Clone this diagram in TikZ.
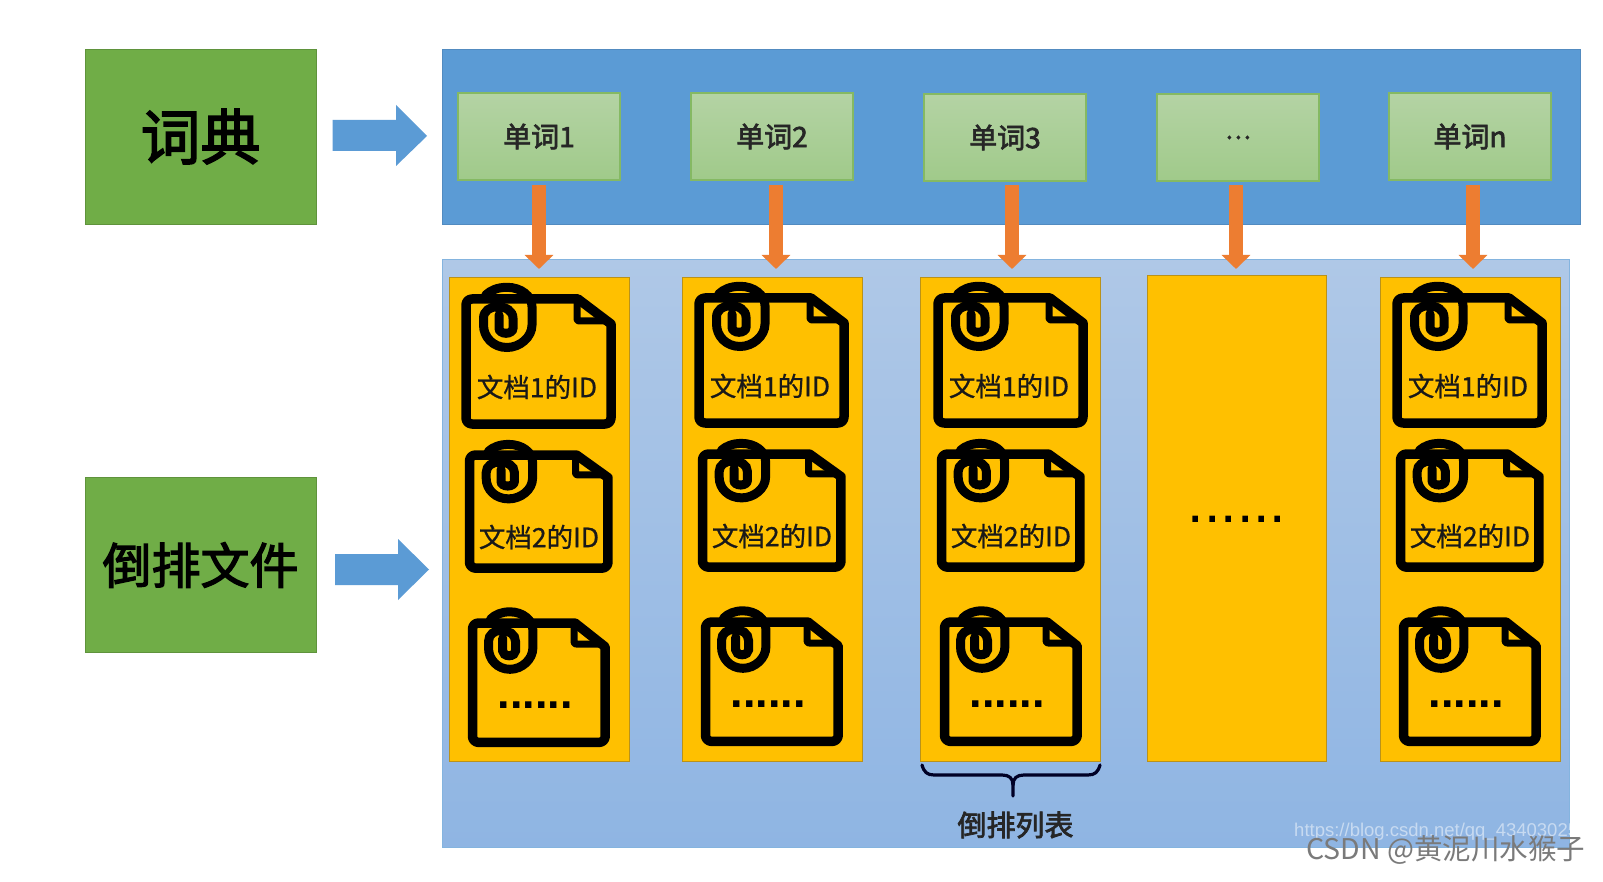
\documentclass[tikz,border=0pt]{standalone}
\usepackage{fontspec}
\setmainfont{Noto Sans CJK SC}
\newfontfamily\medfont[FakeBold=2.5]{Noto Sans CJK SC}
\newfontfamily\lightfake[FakeBold=.8]{Noto Sans CJK SC}
\newfontfamily\dotfont{Liberation Sans}
\usetikzlibrary{arrows.meta}
\definecolor{titlegreen}{HTML}{70AD47}
\definecolor{blockblue}{HTML}{5B9BD5}
\definecolor{listyellow}{HTML}{FFC000}
\definecolor{arroworange}{HTML}{ED7D31}
\definecolor{HTMLwordtop}{HTML}{B4D3A4}
\definecolor{HTMLwordbot}{HTML}{A0CA8A}
\definecolor{lowertop}{HTML}{AFC8E7}
\definecolor{lowerbot}{HTML}{8FB5E3}
\tikzset{
  cellbox/.style={anchor=north west,inner sep=0pt,outer sep=0pt},
  titlebox/.style={cellbox,fill=titlegreen,draw=titlegreen!85!black,line width=.8pt,minimum width=231pt,minimum height=175pt},
  wordbox/.style={cellbox,top color=HTMLwordtop,bottom color=HTMLwordbot,draw=titlegreen!85!white,line width=1.4pt,minimum width=162pt,minimum height=87pt,font=\medfont\fontsize{28}{32}\selectfont,text=black!85},
  listbox/.style={cellbox,fill=listyellow,draw=listyellow!70!black!90,line width=.9pt,minimum width=180pt},
  doclabel/.style={inner sep=0pt,font=\lightfake\fontsize{26.5}{30}\selectfont,text=black!90},
  downarrow/.style={line width=14pt,arroworange,-{Triangle[length=14pt,width=28pt]}},
  docicon/.pic={
    \draw[line width=9.5pt,line join=round,rounded corners=6pt]
      (60,0) [sharp corners] -- (112,0) -- (145,25) [rounded corners=6pt] -- (145,125) -- (0,125) -- (0,0) -- cycle;
    \draw[line width=7pt,line join=round,rounded corners=2pt] (111,1) -- (111,22) -- (144,22);
    \draw[line width=9pt,line cap=round]
      (19.7,-4) .. controls (25,-9) and (32,-11.7) .. (41,-11.7)
      .. controls (55,-11.7) and (66,-3) .. (66,7.7)
      -- (66,26) .. controls (66,38) and (54,48.5) .. (41,48.5)
      .. controls (27,48.5) and (17.5,38) .. (17.5,26)
      -- (17.5,19.3) .. controls (17.5,12) and (24,7.7) .. (31.3,7.7)
      .. controls (40,7.7) and (47,12) .. (47,19.3)
      -- (47,29.3) .. controls (47,32) and (44,34.3) .. (40,34.3)
      .. controls (36,34.3) and (33,32) .. (33,29.3)
      -- (33,16);
  }
}
\begin{document}
\begin{tikzpicture}[x=1pt,y=-1pt]
\useasboundingbox (0,0) rectangle (1603,882);
\fill[white] (0,0) rectangle (1603,882);

% title boxes
\node[titlebox,font=\medfont\fontsize{60}{66}\selectfont] (dict) at (85,49) {词典};
\node[titlebox,font=\medfont\fontsize{49}{56}\selectfont] (inv) at (85,477.5) {倒排文件};

% panels
\node[cellbox,fill=blockblue,draw=blockblue!90!black,line width=.8pt,minimum width=1138pt,minimum height=175pt] (upper) at (442,49) {};
\node[cellbox,top color=lowertop,bottom color=lowerbot,draw=blockblue!75!white,line width=1pt,minimum width=1127pt,minimum height=587pt] (lower) at (442,260) {};

% block arrows
\path[fill=blockblue] (332.5,120) -- (396,120) -- (396,105) -- (427,136) -- (396,166) -- (396,151) -- (332.5,151) -- cycle;
\path[fill=blockblue] (335,554) -- (398,554) -- (398,539) -- (429,569.5) -- (398,600) -- (398,585) -- (335,585) -- cycle;

% word boxes
\node[wordbox] (w1) at (458,93) {单词1};
\node[wordbox] (w2) at (691,93) {单词2};
\node[wordbox] (w3) at (924,94) {单词3};
\node[wordbox,font=\medfont\fontsize{24}{30}\selectfont] (w4) at (1157,94) {…};
\node[wordbox] (w5) at (1389,93) {单词n};

% list columns
\node[listbox,minimum height=484pt] (l1) at (449,277) {};
\node[listbox,minimum height=484pt] (l2) at (682,277) {};
\node[listbox,minimum height=484pt] (l3) at (920,277) {};
\node[listbox,minimum height=486pt,minimum width=179pt] (l4) at (1147,275) {};
\node[listbox,minimum height=484pt] (l5) at (1380,277) {};

% orange arrows
\foreach \n/\cx in {1/539,2/776,3/1012,4/1236,5/1473}{
  \coordinate (o\n) at (\cx,185);
  \coordinate (t\n) at (\cx,269);
  \draw[downarrow] (o\n) -- (t\n);
}

% document icons
\foreach \n/\dx/\dy in {1/0/0,2/233/-1,3/472/-1,5/931/-1}{
  \pic[shift={(466+\dx,299+\dy)}] {docicon};
  \pic[shift={(469.5+\dx,455+\dy)},xscale=.955,yscale=.905] {docicon};
  \pic[shift={(472.5+\dx,623+\dy)},xscale=.915,yscale=.955] {docicon};
  \node[doclabel] (da\n) at (537+\dx,387+\dy) {文档1的ID};
  \node[doclabel] (db\n) at (539+\dx,537+\dy) {文档2的ID};
  \node[inner sep=0pt,anchor=base,font=\dotfont\bfseries\fontsize{45}{50}\selectfont] (dc\n) at (535+\dx,708.5+\dy) {......};
}
\node[inner sep=0pt,anchor=base,font=\dotfont\fontsize{59}{62}\selectfont] (dots4) at (1237,522.5) {......};

% brace
\draw[line width=3.2pt,black!85!blue,line cap=round] (922,765) .. controls (924,772) and (927,775) .. (934,775) -- (1002,775) .. controls (1009,775) and (1013,778) .. (1013,785) -- (1013,796);
\draw[line width=3.2pt,black!85!blue,line cap=round] (1100,765) .. controls (1098,772) and (1095,775) .. (1088,775) -- (1024,775) .. controls (1017,775) and (1013,778) .. (1013,785);
\node[inner sep=0pt,font=\medfont\fontsize{29}{32}\selectfont,text=black!85] (invlist) at (1015.5,825) {倒排列表};

% watermarks
\node[inner sep=0pt,anchor=west,text=white,opacity=.5,font=\dotfont\fontsize{18.5}{20}\selectfont] (url) at (1294,832) {https://blog.csdn.net/qq\_43403025};
\node[inner sep=0pt,anchor=west,text=black!52,font=\fontsize{28.5}{32}\selectfont] (csdn) at (1306,849.5) {CSDN @黄泥川水猴子};
\end{tikzpicture}
\end{document}
